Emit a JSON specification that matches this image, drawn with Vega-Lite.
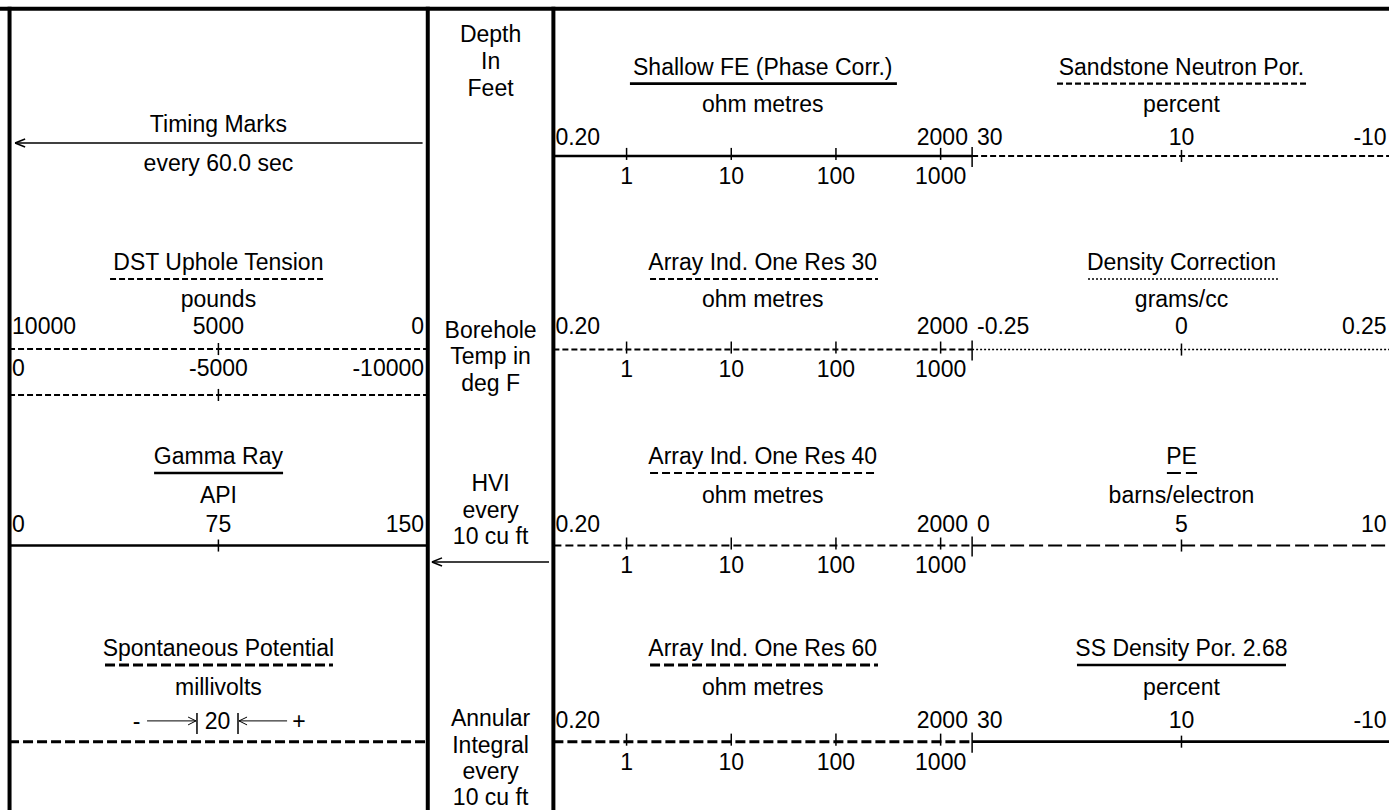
{
  "$schema": "https://vega.github.io/schema/vega-lite/v6.json",
  "width": 1389,
  "height": 810,
  "padding": 0,
  "autosize": {"type": "none"},
  "background": "white",
  "config": {"view": {"stroke": null}},
  "datasets": {
    "lines": [
      {"curve": "frame", "x": -0.06, "x2": 8.3, "y": 0.052, "y2": 0.052},
      {"curve": "frame", "x": 0.003, "x2": 0.003, "y": 0.04, "y2": 4.9},
      {"curve": "frame", "x": 2.5, "x2": 2.5, "y": 0.04, "y2": 4.9},
      {"curve": "frame", "x": 3.25, "x2": 3.25, "y": 0.04, "y2": 4.9},

      {"curve": "Shallow FE (Phase Corr.)", "x": 3.707, "x2": 5.301, "y": 0.499, "y2": 0.499},
      {"curve": "Shallow FE (Phase Corr.)", "x": 3.25, "x2": 5.75, "y": 0.931, "y2": 0.931},
      {"curve": "Sandstone Neutron Por.", "x": 6.257, "x2": 7.749, "y": 0.499, "y2": 0.499},
      {"curve": "Sandstone Neutron Por.", "x": 5.75, "x2": 8.3, "y": 0.931, "y2": 0.931},

      {"curve": "DST Uphole Tension", "x": 0.603, "x2": 1.887, "y": 1.666, "y2": 1.666},
      {"curve": "DST Uphole Tension", "x": 0, "x2": 2.5, "y": 2.084, "y2": 2.084},
      {"curve": "DST Uphole Tension", "x": 0, "x2": 2.5, "y": 2.358, "y2": 2.358},
      {"curve": "Array Ind. One Res 30", "x": 3.827, "x2": 5.188, "y": 1.666, "y2": 1.666},
      {"curve": "Array Ind. One Res 30", "x": 3.25, "x2": 5.75, "y": 2.087, "y2": 2.087},
      {"curve": "Density Correction", "x": 6.442, "x2": 7.576, "y": 1.666, "y2": 1.666},
      {"curve": "Density Correction", "x": 5.75, "x2": 8.3, "y": 2.087, "y2": 2.087},

      {"curve": "Gamma Ray", "x": 0.866, "x2": 1.636, "y": 2.824, "y2": 2.824},
      {"curve": "Gamma Ray", "x": 0, "x2": 2.5, "y": 3.257, "y2": 3.257},
      {"curve": "Array Ind. One Res 40", "x": 3.827, "x2": 5.188, "y": 2.824, "y2": 2.824},
      {"curve": "Array Ind. One Res 40", "x": 3.25, "x2": 5.75, "y": 3.257, "y2": 3.257},
      {"curve": "PE", "x": 6.913, "x2": 7.093, "y": 2.824, "y2": 2.824},
      {"curve": "PE", "x": 5.75, "x2": 8.3, "y": 3.257, "y2": 3.257},

      {"curve": "Spontaneous Potential", "x": 0.573, "x2": 1.934, "y": 3.97, "y2": 3.97},
      {"curve": "Spontaneous Potential", "x": 0, "x2": 2.5, "y": 4.428, "y2": 4.428},
      {"curve": "Array Ind. One Res 60", "x": 3.827, "x2": 5.188, "y": 3.97, "y2": 3.97},
      {"curve": "Array Ind. One Res 60", "x": 3.25, "x2": 5.75, "y": 4.428, "y2": 4.428},
      {"curve": "SS Density Por. 2.68", "x": 6.376, "x2": 7.624, "y": 3.97, "y2": 3.97},
      {"curve": "SS Density Por. 2.68", "x": 5.75, "x2": 8.3, "y": 4.428, "y2": 4.428},

      {"curve": "tick", "x": 5.75, "x2": 5.75, "y": 0.877, "y2": 0.997},
      {"curve": "tick", "x": 5.75, "x2": 5.75, "y": 2.033, "y2": 2.153},
      {"curve": "tick", "x": 5.75, "x2": 5.75, "y": 3.203, "y2": 3.323},
      {"curve": "tick", "x": 5.75, "x2": 5.75, "y": 4.374, "y2": 4.494},

      {"curve": "tick", "x": 1.25, "x2": 1.25, "y": 2.048, "y2": 2.12},
      {"curve": "tick", "x": 1.25, "x2": 1.25, "y": 2.322, "y2": 2.394},
      {"curve": "tick", "x": 1.25, "x2": 1.25, "y": 3.221, "y2": 3.293},
      {"curve": "tick", "x": 7.0, "x2": 7.0, "y": 0.895, "y2": 0.967},
      {"curve": "tick", "x": 7.0, "x2": 7.0, "y": 2.051, "y2": 2.123},
      {"curve": "tick", "x": 7.0, "x2": 7.0, "y": 3.221, "y2": 3.293},
      {"curve": "tick", "x": 7.0, "x2": 7.0, "y": 4.392, "y2": 4.464},

      {"curve": "tick", "x": 3.687, "x2": 3.687, "y": 0.883, "y2": 0.955},
      {"curve": "tick", "x": 4.312, "x2": 4.312, "y": 0.883, "y2": 0.955},
      {"curve": "tick", "x": 4.937, "x2": 4.937, "y": 0.883, "y2": 0.955},
      {"curve": "tick", "x": 5.562, "x2": 5.562, "y": 0.883, "y2": 0.955},
      {"curve": "tick", "x": 3.687, "x2": 3.687, "y": 2.039, "y2": 2.111},
      {"curve": "tick", "x": 4.312, "x2": 4.312, "y": 2.039, "y2": 2.111},
      {"curve": "tick", "x": 4.937, "x2": 4.937, "y": 2.039, "y2": 2.111},
      {"curve": "tick", "x": 5.562, "x2": 5.562, "y": 2.039, "y2": 2.111},
      {"curve": "tick", "x": 3.687, "x2": 3.687, "y": 3.209, "y2": 3.281},
      {"curve": "tick", "x": 4.312, "x2": 4.312, "y": 3.209, "y2": 3.281},
      {"curve": "tick", "x": 4.937, "x2": 4.937, "y": 3.209, "y2": 3.281},
      {"curve": "tick", "x": 5.562, "x2": 5.562, "y": 3.209, "y2": 3.281},
      {"curve": "tick", "x": 3.687, "x2": 3.687, "y": 4.38, "y2": 4.452},
      {"curve": "tick", "x": 4.312, "x2": 4.312, "y": 4.38, "y2": 4.452},
      {"curve": "tick", "x": 4.937, "x2": 4.937, "y": 4.38, "y2": 4.452},
      {"curve": "tick", "x": 5.562, "x2": 5.562, "y": 4.38, "y2": 4.452},

      {"curve": "tick", "x": 1.122, "x2": 1.122, "y": 4.257, "y2": 4.382},
      {"curve": "tick", "x": 1.367, "x2": 1.367, "y": 4.257, "y2": 4.382},

      {"curve": "arrow", "x": 0.036, "x2": 2.469, "y": 0.854, "y2": 0.854},
      {"curve": "arrow", "x": 0.036, "x2": 0.096, "y": 0.854, "y2": 0.83},
      {"curve": "arrow", "x": 0.036, "x2": 0.096, "y": 0.854, "y2": 0.878},
      {"curve": "arrow", "x": 2.525, "x2": 3.224, "y": 3.355, "y2": 3.355},
      {"curve": "arrow", "x": 2.525, "x2": 2.585, "y": 3.355, "y2": 3.331},
      {"curve": "arrow", "x": 2.525, "x2": 2.585, "y": 3.355, "y2": 3.379},

      {"curve": "pointer", "x": 0.824, "x2": 1.116, "y": 4.304, "y2": 4.304},
      {"curve": "pointer", "x": 1.116, "x2": 1.069, "y": 4.304, "y2": 4.281},
      {"curve": "pointer", "x": 1.116, "x2": 1.069, "y": 4.304, "y2": 4.328},
      {"curve": "pointer", "x": 1.373, "x2": 1.66, "y": 4.304, "y2": 4.304},
      {"curve": "pointer", "x": 1.373, "x2": 1.421, "y": 4.304, "y2": 4.281},
      {"curve": "pointer", "x": 1.373, "x2": 1.421, "y": 4.304, "y2": 4.328}
    ],
    "labels": [
      {"role": "title", "text": "Timing Marks", "x": 1.25, "y": 0.788},
      {"role": "unit", "text": "every 60.0 sec", "x": 1.25, "y": 1.021},
      {"role": "depth", "text": "Depth", "x": 2.875, "y": 0.251},
      {"role": "depth", "text": "In", "x": 2.875, "y": 0.412},
      {"role": "depth", "text": "Feet", "x": 2.875, "y": 0.573},
      {"role": "title", "text": "Shallow FE (Phase Corr.)", "x": 4.5, "y": 0.448},
      {"role": "unit", "text": "ohm metres", "x": 4.5, "y": 0.669},
      {"role": "lo", "text": "0.20", "x": 3.262, "y": 0.863},
      {"role": "hi", "text": "2000", "x": 5.725, "y": 0.863},
      {"role": "tick", "text": "1", "x": 3.687, "y": 1.096},
      {"role": "tick", "text": "10", "x": 4.312, "y": 1.096},
      {"role": "tick", "text": "100", "x": 4.937, "y": 1.096},
      {"role": "tick", "text": "1000", "x": 5.562, "y": 1.096},
      {"role": "title", "text": "Sandstone Neutron Por.", "x": 7.0, "y": 0.448},
      {"role": "unit", "text": "percent", "x": 7.0, "y": 0.669},
      {"role": "lo", "text": "30", "x": 5.779, "y": 0.863},
      {"role": "mid", "text": "10", "x": 7.0, "y": 0.863},
      {"role": "hi", "text": "-10", "x": 8.225, "y": 0.863},

      {"role": "title", "text": "DST Uphole Tension", "x": 1.25, "y": 1.612},
      {"role": "unit", "text": "pounds", "x": 1.25, "y": 1.833},
      {"role": "lo", "text": "10000", "x": 0.018, "y": 1.994},
      {"role": "mid", "text": "5000", "x": 1.25, "y": 1.994},
      {"role": "hi", "text": "0", "x": 2.478, "y": 1.994},
      {"role": "lo", "text": "0", "x": 0.018, "y": 2.243},
      {"role": "mid", "text": "-5000", "x": 1.25, "y": 2.243},
      {"role": "hi", "text": "-10000", "x": 2.478, "y": 2.243},
      {"role": "depth", "text": "Borehole", "x": 2.875, "y": 2.018},
      {"role": "depth", "text": "Temp in", "x": 2.875, "y": 2.176},
      {"role": "depth", "text": "deg F", "x": 2.875, "y": 2.334},
      {"role": "title", "text": "Array Ind. One Res 30", "x": 4.5, "y": 1.612},
      {"role": "unit", "text": "ohm metres", "x": 4.5, "y": 1.833},
      {"role": "lo", "text": "0.20", "x": 3.262, "y": 1.994},
      {"role": "hi", "text": "2000", "x": 5.725, "y": 1.994},
      {"role": "tick", "text": "1", "x": 3.687, "y": 2.251},
      {"role": "tick", "text": "10", "x": 4.312, "y": 2.251},
      {"role": "tick", "text": "100", "x": 4.937, "y": 2.251},
      {"role": "tick", "text": "1000", "x": 5.562, "y": 2.251},
      {"role": "title", "text": "Density Correction", "x": 7.0, "y": 1.612},
      {"role": "unit", "text": "grams/cc", "x": 7.0, "y": 1.833},
      {"role": "lo", "text": "-0.25", "x": 5.779, "y": 1.994},
      {"role": "mid", "text": "0", "x": 7.0, "y": 1.994},
      {"role": "hi", "text": "0.25", "x": 8.225, "y": 1.994},

      {"role": "title", "text": "Gamma Ray", "x": 1.25, "y": 2.77},
      {"role": "unit", "text": "API", "x": 1.25, "y": 3.006},
      {"role": "lo", "text": "0", "x": 0.018, "y": 3.179},
      {"role": "mid", "text": "75", "x": 1.25, "y": 3.179},
      {"role": "hi", "text": "150", "x": 2.478, "y": 3.179},
      {"role": "depth", "text": "HVI", "x": 2.875, "y": 2.931},
      {"role": "depth", "text": "every", "x": 2.875, "y": 3.09},
      {"role": "depth", "text": "10 cu ft", "x": 2.875, "y": 3.248},
      {"role": "title", "text": "Array Ind. One Res 40", "x": 4.5, "y": 2.77},
      {"role": "unit", "text": "ohm metres", "x": 4.5, "y": 3.006},
      {"role": "lo", "text": "0.20", "x": 3.262, "y": 3.179},
      {"role": "hi", "text": "2000", "x": 5.725, "y": 3.179},
      {"role": "tick", "text": "1", "x": 3.687, "y": 3.424},
      {"role": "tick", "text": "10", "x": 4.312, "y": 3.424},
      {"role": "tick", "text": "100", "x": 4.937, "y": 3.424},
      {"role": "tick", "text": "1000", "x": 5.562, "y": 3.424},
      {"role": "title", "text": "PE", "x": 7.0, "y": 2.77},
      {"role": "unit", "text": "barns/electron", "x": 7.0, "y": 3.006},
      {"role": "lo", "text": "0", "x": 5.779, "y": 3.179},
      {"role": "mid", "text": "5", "x": 7.0, "y": 3.179},
      {"role": "hi", "text": "10", "x": 8.225, "y": 3.179},

      {"role": "title", "text": "Spontaneous Potential", "x": 1.25, "y": 3.916},
      {"role": "unit", "text": "millivolts", "x": 1.25, "y": 4.152},
      {"role": "mid", "text": "-", "x": 0.761, "y": 4.352},
      {"role": "mid", "text": "20", "x": 1.245, "y": 4.352},
      {"role": "mid", "text": "+", "x": 1.731, "y": 4.352},
      {"role": "depth", "text": "Annular", "x": 2.875, "y": 4.334},
      {"role": "depth", "text": "Integral", "x": 2.875, "y": 4.493},
      {"role": "depth", "text": "every", "x": 2.875, "y": 4.651},
      {"role": "depth", "text": "10 cu ft", "x": 2.875, "y": 4.809},
      {"role": "title", "text": "Array Ind. One Res 60", "x": 4.5, "y": 3.916},
      {"role": "unit", "text": "ohm metres", "x": 4.5, "y": 4.152},
      {"role": "lo", "text": "0.20", "x": 3.262, "y": 4.346},
      {"role": "hi", "text": "2000", "x": 5.725, "y": 4.346},
      {"role": "tick", "text": "1", "x": 3.687, "y": 4.597},
      {"role": "tick", "text": "10", "x": 4.312, "y": 4.597},
      {"role": "tick", "text": "100", "x": 4.937, "y": 4.597},
      {"role": "tick", "text": "1000", "x": 5.562, "y": 4.597},
      {"role": "title", "text": "SS Density Por. 2.68", "x": 7.0, "y": 3.916},
      {"role": "unit", "text": "percent", "x": 7.0, "y": 4.152},
      {"role": "lo", "text": "30", "x": 5.779, "y": 4.346},
      {"role": "mid", "text": "10", "x": 7.0, "y": 4.346},
      {"role": "hi", "text": "-10", "x": 8.225, "y": 4.346}
    ]
  },
  "encoding": {
    "x": {"field": "x", "type": "quantitative", "scale": {"domain": [-0.054, 8.239], "nice": false, "zero": false}, "axis": null},
    "y": {"field": "y", "type": "quantitative", "scale": {"domain": [0, 4.836], "nice": false, "zero": false, "reverse": true}, "axis": null}
  },
  "layer": [
    {
      "data": {"name": "lines"},
      "transform": [{"filter": {"field": "curve", "oneOf": ["frame"]}}],
      "mark": {"type": "rule", "color": "#000", "strokeWidth": 4},
      "encoding": {"x2": {"field": "x2"}, "y2": {"field": "y2"}}
    },
    {
      "data": {"name": "lines"},
      "transform": [{"filter": {"field": "curve", "oneOf": ["Shallow FE (Phase Corr.)", "Gamma Ray", "SS Density Por. 2.68"]}}],
      "mark": {"type": "rule", "color": "#000", "strokeWidth": 2.6},
      "encoding": {"x2": {"field": "x2"}, "y2": {"field": "y2"}}
    },
    {
      "data": {"name": "lines"},
      "transform": [{"filter": {"field": "curve", "oneOf": ["Sandstone Neutron Por.", "DST Uphole Tension", "Array Ind. One Res 30"]}}],
      "mark": {"type": "rule", "color": "#000", "strokeWidth": 2.1, "strokeDash": [6, 3]},
      "encoding": {"x2": {"field": "x2"}, "y2": {"field": "y2"}}
    },
    {
      "data": {"name": "lines"},
      "transform": [{"filter": {"field": "curve", "oneOf": ["Density Correction"]}}],
      "mark": {"type": "rule", "color": "#000", "strokeWidth": 1.4, "strokeDash": [2, 2]},
      "encoding": {"x2": {"field": "x2"}, "y2": {"field": "y2"}}
    },
    {
      "data": {"name": "lines"},
      "transform": [{"filter": {"field": "curve", "oneOf": ["Array Ind. One Res 40"]}}],
      "mark": {"type": "rule", "color": "#000", "strokeWidth": 2.1, "strokeDash": [8, 4]},
      "encoding": {"x2": {"field": "x2"}, "y2": {"field": "y2"}}
    },
    {
      "data": {"name": "lines"},
      "transform": [{"filter": {"field": "curve", "oneOf": ["PE"]}}],
      "mark": {"type": "rule", "color": "#000", "strokeWidth": 2, "strokeDash": [14, 5]},
      "encoding": {"x2": {"field": "x2"}, "y2": {"field": "y2"}}
    },
    {
      "data": {"name": "lines"},
      "transform": [{"filter": {"field": "curve", "oneOf": ["Spontaneous Potential", "Array Ind. One Res 60"]}}],
      "mark": {"type": "rule", "color": "#000", "strokeWidth": 3, "strokeDash": [10, 4]},
      "encoding": {"x2": {"field": "x2"}, "y2": {"field": "y2"}}
    },
    {
      "data": {"name": "lines"},
      "transform": [{"filter": {"field": "curve", "oneOf": ["tick", "arrow"]}}],
      "mark": {"type": "rule", "color": "#000", "strokeWidth": 1.5},
      "encoding": {"x2": {"field": "x2"}, "y2": {"field": "y2"}}
    },
    {
      "data": {"name": "lines"},
      "transform": [{"filter": {"field": "curve", "oneOf": ["pointer"]}}],
      "mark": {"type": "rule", "color": "#000", "strokeWidth": 1},
      "encoding": {"x2": {"field": "x2"}, "y2": {"field": "y2"}}
    },
    {
      "data": {"name": "labels"},
      "transform": [{"filter": {"field": "role", "oneOf": ["title", "unit", "mid", "tick", "depth"]}}],
      "mark": {"type": "text", "align": "center", "baseline": "alphabetic", "font": "Liberation Sans, DejaVu Sans", "fontSize": 23, "color": "#000"},
      "encoding": {"text": {"field": "text"}}
    },
    {
      "data": {"name": "labels"},
      "transform": [{"filter": {"field": "role", "oneOf": ["lo"]}}],
      "mark": {"type": "text", "align": "left", "baseline": "alphabetic", "font": "Liberation Sans, DejaVu Sans", "fontSize": 23, "color": "#000"},
      "encoding": {"text": {"field": "text"}}
    },
    {
      "data": {"name": "labels"},
      "transform": [{"filter": {"field": "role", "oneOf": ["hi"]}}],
      "mark": {"type": "text", "align": "right", "baseline": "alphabetic", "font": "Liberation Sans, DejaVu Sans", "fontSize": 23, "color": "#000"},
      "encoding": {"text": {"field": "text"}}
    }
  ]
}
